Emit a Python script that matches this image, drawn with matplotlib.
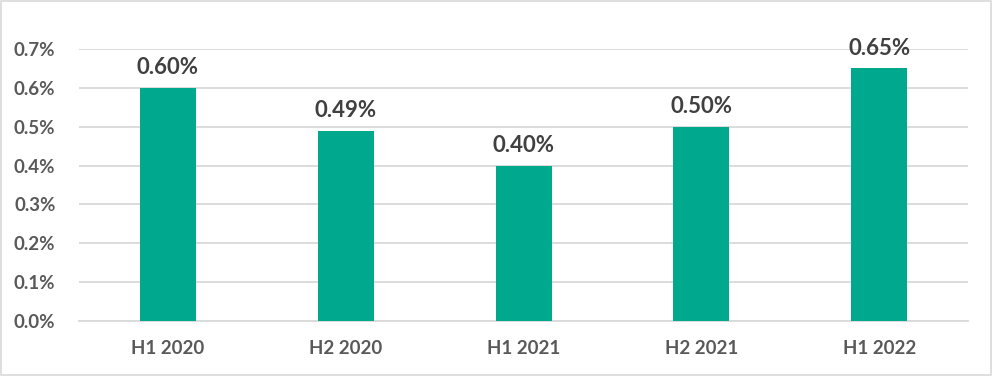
import matplotlib.pyplot as plt
from matplotlib.ticker import PercentFormatter
from matplotlib.patches import Rectangle

periods = ['H1 2020', 'H2 2020', 'H1 2021', 'H2 2021', 'H1 2022']
rates = [0.60, 0.49, 0.40, 0.50, 0.65]
bar_labels = ['0.60%', '0.49%', '0.40%', '0.50%', '0.65%']

plt.rcParams['font.family'] = ['Lato', 'DejaVu Sans']

fig = plt.figure(figsize=(9.93, 3.76), dpi=100)
ax = fig.add_axes([0.0796, 0.1463, 0.8953, 0.7234])

x = range(len(periods))
ax.bar(x, rates, width=0.315, color='#00A88E', zorder=3)

for i, (v, lab) in enumerate(zip(rates, bar_labels)):
    ax.annotate(lab, (i, v), xytext=(0, 7), textcoords='offset points',
                ha='center', va='bottom', fontsize=16, fontweight='bold',
                color='#404040')

ax.set_xlim(-0.5, 4.5)
ax.set_ylim(0, 0.7)
ax.set_yticks([0, 0.1, 0.2, 0.3, 0.4, 0.5, 0.6, 0.7])
ax.yaxis.set_major_formatter(PercentFormatter(decimals=1))
ax.set_xticks(list(x))
ax.set_xticklabels(periods)

ax.grid(axis='y', color='#D9D9D9', linewidth=1.3, zorder=0)
ax.tick_params(length=0, labelsize=13.5, labelcolor='#595959')
ax.tick_params(axis='x', pad=14)
ax.tick_params(axis='y', pad=17)
for t in ax.get_xticklabels() + ax.get_yticklabels():
    t.set_fontweight('bold')
for s in ['top', 'right', 'left']:
    ax.spines[s].set_visible(False)
ax.spines['bottom'].set_color('#D9D9D9')
ax.spines['bottom'].set_linewidth(1.3)

fig.patches.append(Rectangle((0.001, 0.002), 0.997, 0.995, transform=fig.transFigure,
                             fill=False, edgecolor='#D9D9D9', linewidth=1.2))

plt.savefig('out.png', dpi=100)
